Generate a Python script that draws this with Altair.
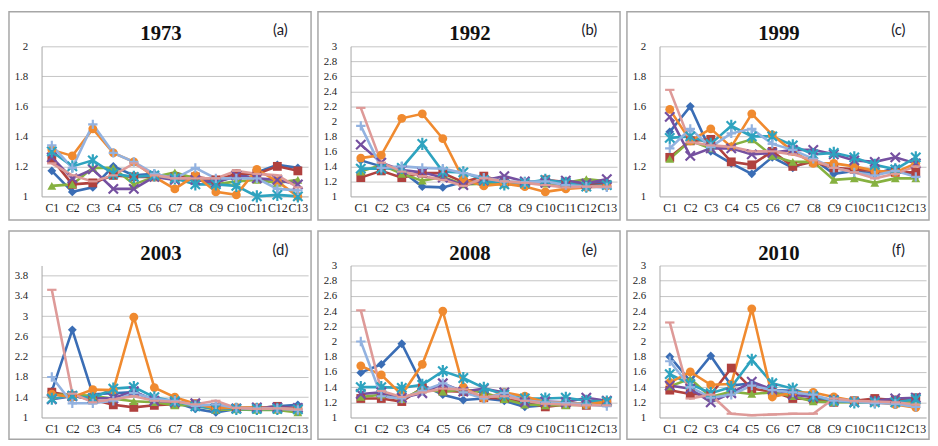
import altair as alt
import pandas as pd

CATS = ["C1", "C2", "C3", "C4", "C5", "C6", "C7", "C8", "C9", "C10", "C11", "C12", "C13"]
SERIES = ["Series1", "Series2", "Series3", "Series4", "Series5", "Series6", "Series7", "Series8"]
COLORS = ["#3A6DB5", "#B0413E", "#86B140", "#7550A0", "#2EA3BF", "#F08A2F", "#92B2E0", "#DE9A98"]
SHAPES = ["diamond", "square", "triangle-up",
          "M-1,-1L1,1M-1,1L1,-1",
          "M-1,-1L1,1M-1,1L1,-1M0,-1.3L0,1.3",
          "circle",
          "M0,-1L0,1M-1,0L1,0",
          "M-1,0L1,0"]
FILLED = ["Series1", "Series2", "Series3", "Series6"]
STROKED = ["Series4", "Series5", "Series7", "Series8"]

Y1973 = {
    "Series1": [1.17, 1.03, 1.06, 1.20, 1.14, 1.15, 1.12, 1.11, 1.10, 1.13, 1.16, 1.21, 1.19],
    "Series2": [1.25, 1.08, 1.09, 1.14, 1.13, 1.13, 1.13, 1.13, 1.11, 1.15, 1.15, 1.20, 1.17],
    "Series3": [1.07, 1.08, 1.19, 1.19, 1.08, 1.13, 1.16, 1.12, 1.08, 1.10, 1.11, 1.09, 1.11],
    "Series4": [1.26, 1.12, 1.18, 1.05, 1.05, 1.13, 1.11, 1.11, 1.09, 1.14, 1.12, 1.11, 1.08],
    "Series5": [1.30, 1.20, 1.24, 1.15, 1.13, 1.14, 1.12, 1.08, 1.08, 1.07, 1.00, 1.01, 1.00],
    "Series6": [1.31, 1.27, 1.45, 1.29, 1.23, 1.13, 1.05, 1.14, 1.03, 1.01, 1.18, 1.10, 1.00],
    "Series7": [1.34, 1.19, 1.48, 1.29, 1.23, 1.15, 1.12, 1.19, 1.12, 1.12, 1.12, 1.05, 1.04],
    "Series8": [1.22, 1.14, 1.10, 1.14, 1.22, 1.14, 1.12, 1.12, 1.12, 1.17, 1.15, 1.14, 1.06],
}
Y1992 = {
    "Series1": [1.48, 1.40, 1.34, 1.13, 1.12, 1.19, 1.20, 1.17, 1.16, 1.19, 1.14, 1.17, 1.18],
    "Series2": [1.25, 1.34, 1.25, 1.31, 1.31, 1.19, 1.27, 1.19, 1.16, 1.22, 1.19, 1.15, 1.16],
    "Series3": [1.33, 1.42, 1.30, 1.21, 1.26, 1.16, 1.17, 1.16, 1.18, 1.17, 1.18, 1.23, 1.20],
    "Series4": [1.69, 1.45, 1.35, 1.32, 1.25, 1.15, 1.21, 1.27, 1.20, 1.18, 1.21, 1.17, 1.23],
    "Series5": [1.37, 1.37, 1.38, 1.70, 1.33, 1.32, 1.22, 1.16, 1.18, 1.22, 1.18, 1.13, 1.15],
    "Series6": [1.51, 1.55, 2.04, 2.10, 1.77, 1.23, 1.14, 1.17, 1.13, 1.06, 1.10, 1.12, 1.14],
    "Series7": [1.94, 1.38, 1.40, 1.38, 1.37, 1.31, 1.25, 1.20, 1.19, 1.20, 1.15, 1.13, 1.12],
    "Series8": [2.18, 1.45, 1.33, 1.27, 1.22, 1.14, 1.24, 1.20, 1.18, 1.15, 1.12, 1.13, 1.13],
}
Y1999 = {
    "Series1": [1.43, 1.60, 1.30, 1.22, 1.15, 1.26, 1.19, 1.25, 1.15, 1.17, 1.15, 1.19, 1.13],
    "Series2": [1.26, 1.37, 1.38, 1.23, 1.21, 1.30, 1.20, 1.23, 1.19, 1.18, 1.17, 1.16, 1.16],
    "Series3": [1.25, 1.37, 1.32, 1.34, 1.38, 1.27, 1.23, 1.23, 1.11, 1.12, 1.09, 1.12, 1.12],
    "Series4": [1.53, 1.27, 1.32, 1.32, 1.28, 1.29, 1.31, 1.31, 1.28, 1.24, 1.23, 1.26, 1.22],
    "Series5": [1.39, 1.40, 1.35, 1.47, 1.40, 1.40, 1.34, 1.28, 1.29, 1.26, 1.21, 1.18, 1.26],
    "Series6": [1.58, 1.37, 1.45, 1.33, 1.55, 1.41, 1.30, 1.22, 1.22, 1.20, 1.17, 1.16, 1.22],
    "Series7": [1.32, 1.45, 1.33, 1.42, 1.45, 1.35, 1.31, 1.25, 1.19, 1.16, 1.14, 1.17, 1.13],
    "Series8": [1.71, 1.36, 1.34, 1.33, 1.30, 1.30, 1.28, 1.24, 1.19, 1.16, 1.12, 1.15, 1.20],
}
Y2003 = {
    "Series1": [1.52, 2.73, 1.46, 1.48, 1.50, 1.34, 1.30, 1.17, 1.10, 1.17, 1.18, 1.22, 1.25],
    "Series2": [1.50, 1.43, 1.35, 1.25, 1.20, 1.24, 1.26, 1.27, 1.20, 1.18, 1.18, 1.22, 1.17],
    "Series3": [1.45, 1.45, 1.43, 1.37, 1.32, 1.30, 1.24, 1.24, 1.15, 1.16, 1.15, 1.15, 1.10],
    "Series4": [1.36, 1.42, 1.38, 1.38, 1.52, 1.33, 1.30, 1.28, 1.18, 1.18, 1.20, 1.20, 1.19],
    "Series5": [1.37, 1.43, 1.38, 1.57, 1.60, 1.40, 1.32, 1.22, 1.18, 1.17, 1.17, 1.17, 1.16],
    "Series6": [1.46, 1.40, 1.55, 1.54, 2.98, 1.59, 1.40, 1.27, 1.18, 1.20, 1.20, 1.17, 1.17],
    "Series7": [1.80, 1.28, 1.28, 1.33, 1.48, 1.37, 1.33, 1.23, 1.26, 1.19, 1.18, 1.18, 1.15],
    "Series8": [3.52, 1.47, 1.30, 1.36, 1.42, 1.33, 1.31, 1.26, 1.33, 1.19, 1.17, 1.18, 1.16],
}
Y2008 = {
    "Series1": [1.59, 1.70, 1.97, 1.43, 1.30, 1.23, 1.25, 1.22, 1.14, 1.16, 1.18, 1.18, 1.20],
    "Series2": [1.25, 1.25, 1.21, 1.39, 1.35, 1.34, 1.26, 1.25, 1.20, 1.14, 1.17, 1.16, 1.20],
    "Series3": [1.27, 1.30, 1.24, 1.37, 1.34, 1.37, 1.33, 1.24, 1.17, 1.16, 1.16, 1.17, 1.19],
    "Series4": [1.31, 1.33, 1.26, 1.32, 1.45, 1.34, 1.38, 1.33, 1.20, 1.21, 1.20, 1.26, 1.22],
    "Series5": [1.40, 1.40, 1.39, 1.43, 1.61, 1.52, 1.39, 1.30, 1.25, 1.25, 1.26, 1.22, 1.21],
    "Series6": [1.68, 1.56, 1.30, 1.70, 2.40, 1.40, 1.25, 1.33, 1.28, 1.20, 1.20, 1.17, 1.21],
    "Series7": [2.00, 1.28, 1.25, 1.35, 1.45, 1.33, 1.25, 1.32, 1.22, 1.20, 1.19, 1.17, 1.15],
    "Series8": [2.41, 1.35, 1.27, 1.33, 1.38, 1.37, 1.27, 1.28, 1.22, 1.18, 1.17, 1.16, 1.16],
}
Y2010 = {
    "Series1": [1.80, 1.48, 1.81, 1.42, 1.45, 1.36, 1.35, 1.26, 1.22, 1.21, 1.22, 1.23, 1.25],
    "Series2": [1.36, 1.31, 1.30, 1.65, 1.38, 1.34, 1.25, 1.24, 1.20, 1.22, 1.25, 1.23, 1.26],
    "Series3": [1.41, 1.51, 1.27, 1.34, 1.31, 1.33, 1.28, 1.21, 1.20, 1.20, 1.20, 1.20, 1.20],
    "Series4": [1.42, 1.38, 1.20, 1.32, 1.47, 1.37, 1.30, 1.27, 1.23, 1.20, 1.22, 1.25, 1.26],
    "Series5": [1.57, 1.44, 1.32, 1.40, 1.76, 1.45, 1.38, 1.28, 1.22, 1.20, 1.20, 1.20, 1.24],
    "Series6": [1.46, 1.60, 1.43, 1.44, 2.43, 1.27, 1.33, 1.33, 1.27, 1.22, 1.20, 1.17, 1.13],
    "Series7": [1.74, 1.40, 1.26, 1.30, 1.42, 1.36, 1.33, 1.30, 1.22, 1.21, 1.19, 1.18, 1.14],
    "Series8": [2.25, 1.25, 1.30, 1.05, 1.03, 1.04, 1.05, 1.05, 1.25, 1.22, 1.21, 1.20, 1.17],
}

TICKS_2 = [1.0, 1.2, 1.4, 1.6, 1.8, 2.0]
TICKS_3 = [1.0, 1.2, 1.4, 1.6, 1.8, 2.0, 2.2, 2.4, 2.6, 2.8, 3.0]
TICKS_4 = [1.0, 1.4, 1.8, 2.2, 2.6, 3.0, 3.4, 3.8]

W = 270
SERIF = "Liberation Serif"


def panel(title, tag, table, ticks, ymax, height, bottom_pad):
    rows = [{"cat": c, "series": s, "value": v}
            for s, vals in table.items() for c, v in zip(CATS, vals)]
    df = pd.DataFrame(rows)
    x = alt.X("cat:O", sort=CATS, title=None,
              axis=alt.Axis(labelAngle=0, labelFont=SERIF, labelFontSize=12,
                            labelColor="#222222", ticks=False, tickSize=0, domain=True,
                            domainColor="#BFBFBF", labelPadding=6, grid=False,
                            labelOverlap=False))
    y = alt.Y("value:Q", title=None,
              scale=alt.Scale(domain=[1, ymax], nice=False, zero=False),
              axis=alt.Axis(values=ticks, tickCount=len(ticks),
                            labelExpr="format(datum.value, '.1~f')", labelFont=SERIF,
                            labelFontSize=11, labelColor="#222222", ticks=False, tickSize=0,
                            labelPadding=14, domainColor="#A6A6A6", gridColor="#C4C4C4",
                            grid=True, labelOverlap=False, labelFlush=False))
    color = alt.Color("series:N", scale=alt.Scale(domain=SERIES, range=COLORS), legend=None)
    shape = alt.Shape("series:N", scale=alt.Scale(domain=SERIES, range=SHAPES), legend=None)
    base = alt.Chart(df).encode(x=x, y=y, color=color)
    lines = base.mark_line(strokeWidth=2.6)
    filled = base.mark_point(filled=True, size=80, opacity=1).encode(shape=shape).transform_filter(
        alt.FieldOneOfPredicate(field="series", oneOf=FILLED))
    stroked = base.mark_point(filled=False, size=90, strokeWidth=2.2, opacity=1).encode(
        shape=shape).transform_filter(alt.FieldOneOfPredicate(field="series", oneOf=STROKED))
    border = alt.Chart(pd.DataFrame({"k": [0]})).mark_rect(
        fill="transparent", stroke="#A6A6A6", strokeWidth=1.5).encode(
        x=alt.value(-33), x2=alt.value(273), y=alt.value(-35), y2=alt.value(height + bottom_pad))
    ttl = alt.Chart(pd.DataFrame({"t": [title]})).mark_text(
        font=SERIF, fontSize=21, fontWeight="bold", color="#111111",
        baseline="middle").encode(text="t:N", x=alt.value(121), y=alt.value(-12))
    tg = alt.Chart(pd.DataFrame({"t": [tag]})).mark_text(
        font="Lato", fontSize=15, color="#1A1A2A", baseline="middle").encode(
        text="t:N", x=alt.value(242), y=alt.value(-16))
    return alt.layer(border, lines, filled, stroked, ttl, tg).properties(width=W, height=height)


row1 = alt.hconcat(
    panel("1973", "(a)", Y1973, TICKS_2, 2, 152, 24),
    panel("1992", "(b)", Y1992, TICKS_3, 3, 152, 24),
    panel("1999", "(c)", Y1999, TICKS_2, 2, 152, 24),
    spacing=5,
).resolve_scale(x="independent", y="independent")

row2 = alt.hconcat(
    panel("2003", "(d)", Y2003, TICKS_4, 4, 154, 22),
    panel("2008", "(e)", Y2008, TICKS_3, 3, 154, 22),
    panel("2010", "(f)", Y2010, TICKS_3, 3, 154, 22),
    spacing=5,
).resolve_scale(x="independent", y="independent")

chart = alt.vconcat(row1, row2, spacing=9).resolve_scale(
    x="independent", y="independent").properties(padding=0).configure_view(
    strokeWidth=0).configure_axis(labelFont=SERIF)

chart.save("out.html", embed_options={"renderer": "svg", "actions": False})
